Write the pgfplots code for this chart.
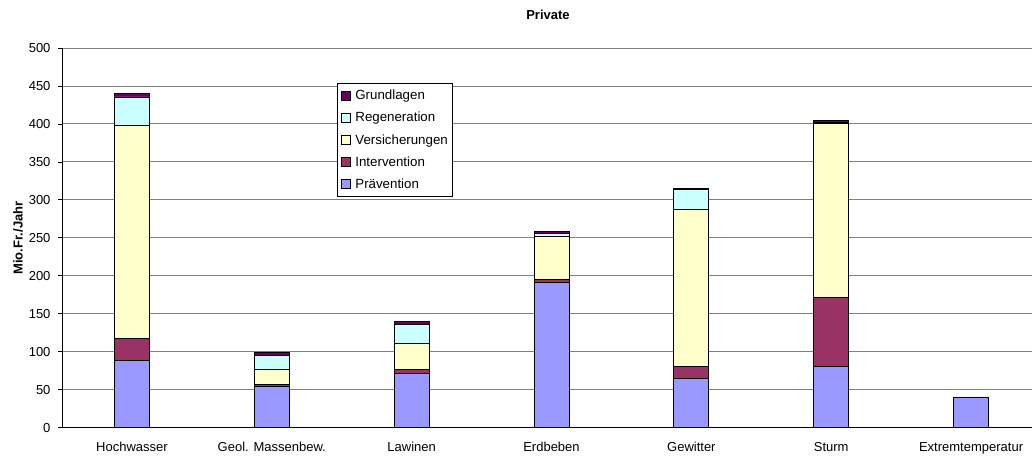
\documentclass[border=0pt]{standalone}
\usepackage{pgfplots}
\pgfplotsset{compat=1.18}
\usepackage{fontspec}
\setmainfont{Liberation Sans}

\definecolor{praev}{HTML}{9999FF}
\definecolor{interv}{HTML}{993366}
\definecolor{versich}{HTML}{FFFFCC}
\definecolor{regen}{HTML}{CCFFFF}
\definecolor{grundl}{HTML}{660066}
\definecolor{gridgray}{HTML}{808080}

% Kosten nach Gefahr und Massnahmentyp, Mio. Fr. pro Jahr
% x: 0 Hochwasser, 1 Geol. Massenbew., 2 Lawinen, 3 Erdbeben,
%    4 Gewitter, 5 Sturm, 6 Extremtemperatur
\begin{document}
\begin{tikzpicture}[font=\fontsize{13}{15}\selectfont]
\begin{axis}[
  at={(62pt,31.3pt)}, anchor=south west,
  scale only axis,
  width=979pt, height=379.7pt,
  ybar stacked,
  bar width=35pt,
  xmin=-0.5, xmax=6.5,
  ymin=0, ymax=500,
  ytick={0,50,...,500},
  xtick={0,...,6},
  xticklabels={Hochwasser,Geol. Massenbew.,Lawinen,Erdbeben,Gewitter,Sturm,Extremtemperatur},
  x tick style={draw=none},
  extra x ticks={-0.5,0.5,1.5,2.5,3.5,4.5,5.5,6.5},
  extra x tick labels={},
  extra x tick style={grid=none, tick style={draw=black, line width=0.8pt}},
  tick align=outside,
  major tick length=4pt,
  y tick style={draw=black, line width=0.8pt},
  axis lines*=left,
  axis line style={black, line width=0.8pt},
  ymajorgrids,
  grid style={gridgray, line width=0.9pt},
  /pgf/number format/assume math mode=true,
  ticklabel style={font=\fontsize{13}{15}\selectfont},
  yticklabel style={xshift=-4pt},
  xticklabel style={yshift=-7pt},
  every axis plot/.append style={draw=black, line width=0.8pt},
  reverse legend,
  legend cell align=left,
  legend style={at={(0.2812,0.907)}, anchor=north west,
    draw=black, line width=0.8pt, fill=white,
    font=\fontsize{13.3}{15}\selectfont,
    row sep=7pt, inner xsep=3pt, inner ysep=4.5pt,
    /tikz/every odd column/.append style={column sep=3pt}},
  legend image code/.code={\draw[#1, line width=0.7pt] (0pt,-4.5pt) rectangle (9pt,4.5pt);},
]
\addplot[fill=praev] coordinates {(0,89) (1,54) (2,71.5) (3,191.5) (4,64.5) (5,81.2) (6,40.5)};
\addplot[fill=interv] coordinates {(0,29) (1,3) (2,5.5) (3,4.2) (4,16.7) (5,90.4) (6,0)};
\addplot[fill=versich] coordinates {(0,280) (1,20) (2,34) (3,55.6) (4,206.6) (5,229) (6,0)};
\addplot[fill=regen] coordinates {(0,37.5) (1,18) (2,25.5) (3,4) (4,26.2) (5,1) (6,0)};
\addplot[fill=grundl] coordinates {(0,5) (1,4) (2,4) (3,3.5) (4,1) (5,3.5) (6,0)};
\legend{Pr\"avention,Intervention,Versicherungen,Regeneration,Grundlagen}
\end{axis}
\node[font=\fontsize{13}{15}\selectfont\bfseries] at (548pt,444pt) {Private};
\node[font=\fontsize{13}{15}\selectfont\bfseries, rotate=90] at (18pt,221pt) {Mio.Fr./Jahr};
\pgfresetboundingbox
\path[use as bounding box] (0pt,0pt) rectangle (1032pt,459pt);
\end{tikzpicture}
\end{document}
